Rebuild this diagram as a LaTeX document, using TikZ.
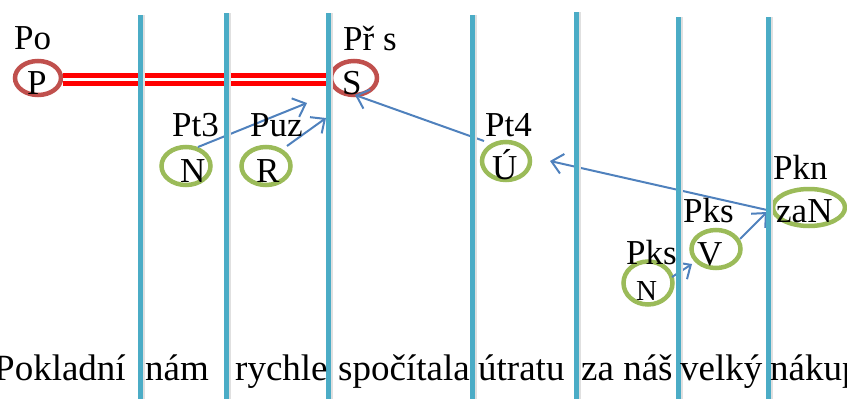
\documentclass[tikz,border=0pt]{standalone}
\usepackage{fontspec}
\setmainfont{Liberation Serif}
\usetikzlibrary{shapes.geometric,arrows.meta}
\definecolor{vline}{HTML}{4BACC6}
\definecolor{redc}{HTML}{C0504D}
\definecolor{greenc}{HTML}{9BBB59}
\definecolor{arrc}{HTML}{4F81BD}
\definecolor{dred}{HTML}{FF0000}
\tikzset{
  redell/.style={ellipse, draw=redc, line width=4.5pt, inner sep=0pt},
  greenell/.style={ellipse, draw=greenc, line width=4.5pt, inner sep=0pt},
  lbl/.style={anchor=base west, inner sep=0pt, font=\fontsize{35}{40}\selectfont},
  ltr/.style={anchor=base west, inner sep=0pt, font=\fontsize{35}{40}\selectfont},
  word/.style={anchor=base west, inner sep=0pt, font=\fontsize{37}{42}\selectfont},
  arr/.style={draw=arrc, line width=2pt, -{Straight Barb[length=11pt,width=20pt]}},
  sep/.style={draw=vline, line width=5pt},
  sepshadow/.style={draw=black!12, line width=3pt},
  dline/.style={draw=dred, double=white, line width=5pt, double distance=3pt}
}
\begin{document}
\begin{tikzpicture}[x=1pt,y=-1pt]
\useasboundingbox (0,0) rectangle (847,399);
% ellipses
\node[redell, minimum width=46pt, minimum height=34pt] (cP) at (38,78) {};
\node[redell, minimum width=46pt, minimum height=34pt] (cS) at (354,78) {};
\node[greenell, minimum width=49pt, minimum height=38pt] (cN) at (186,166) {};
\node[greenell, minimum width=49pt, minimum height=38pt] (cR) at (266,166) {};
\node[greenell, minimum width=48pt, minimum height=38pt] (cU) at (506,161) {};
\node[greenell, minimum width=72pt, minimum height=37pt] (czaN) at (809,207.5) {};
\node[greenell, minimum width=49pt, minimum height=38pt] (cV) at (716,249) {};
\node[greenell, minimum width=49pt, minimum height=43pt] (cNb) at (648,283) {};
% double red line
\draw[dline] ([yshift=-1.5pt]cP.east) -- ([yshift=-1.5pt]cS.west);
% arrow end points
\coordinate (a1s) at (198,147);
\coordinate (a1e) at (307,103);
\coordinate (a2s) at (287,146);
\coordinate (a2e) at (326,118);
\coordinate (a3s) at (484,141);
\coordinate (a3e) at (355,95);
\coordinate (a4s) at (767,210);
\coordinate (a4e) at (550,161);
\coordinate (a5s) at (672,277);
\coordinate (a5e) at (692,264);
\coordinate (a6s) at (740,239);
\coordinate (a6e) at (767,212);
\draw[arr] (a1s) -- (a1e);
\draw[arr] (a2s) -- (a2e);
\draw[arr] (a3s) -- (a3e);
\draw[arr] (a4s) -- (a4e);
\draw[arr] (a5s) -- (a5e);
\draw[arr] (a6s) -- (a6e);
% vertical separators
\foreach \x/\t [count=\i] in {140/15,226/13,328/13,472/15,576/12,678/17,768/17}{
  \draw[sepshadow] (\x+3.5,\t) -- (\x+3.5,399);
  \draw[sep] (\x,\t) coordinate (vt\i) -- (\x,399) coordinate (vb\i);
}
% labels
\node[lbl] (lPo) at (14,49) {Po};
\node[lbl] (lPrs) at (343,50) {Př s};
\node[lbl] (lPt3) at (172,136) {Pt3};
\node[lbl] (lPuz) at (250,136) {Puz};
\node[lbl] (lPt4) at (485,136) {Pt4};
\node[lbl] (lPkn) at (773,179) {Pkn};
\node[lbl] (lPks1) at (683,222) {Pks};
\node[lbl] (lPks2) at (626,264) {Pks};
% letters
\node[ltr] (tP) at (27,94) {P};
\node[ltr] (tS) at (342,94) {S};
\node[ltr] (tN) at (180,182) {N};
\node[ltr] (tR) at (256,182) {R};
\node[ltr] (tU) at (492,179) {Ú};
\node[ltr] (tzaN) at (776,222) {zaN};
\node[ltr] (tV) at (697,265) {V};
\node[ltr, font=\fontsize{29}{32}\selectfont] (tNb) at (636,300) {N};
% bottom words
\node[word] (w1) at (-6,380) {Pokladní};
\node[word] (w2) at (145,380) {nám};
\node[word] (w3) at (235,380) {rychle};
\node[word] (w4) at (338,380) {spočítala};
\node[word] (w5) at (478,380) {útratu};
\node[word] (w6) at (581,380) {za náš};
\node[word] (w7) at (680,380) {velký};
\node[word] (w8) at (770,380) {nákup};
\end{tikzpicture}
\end{document}
